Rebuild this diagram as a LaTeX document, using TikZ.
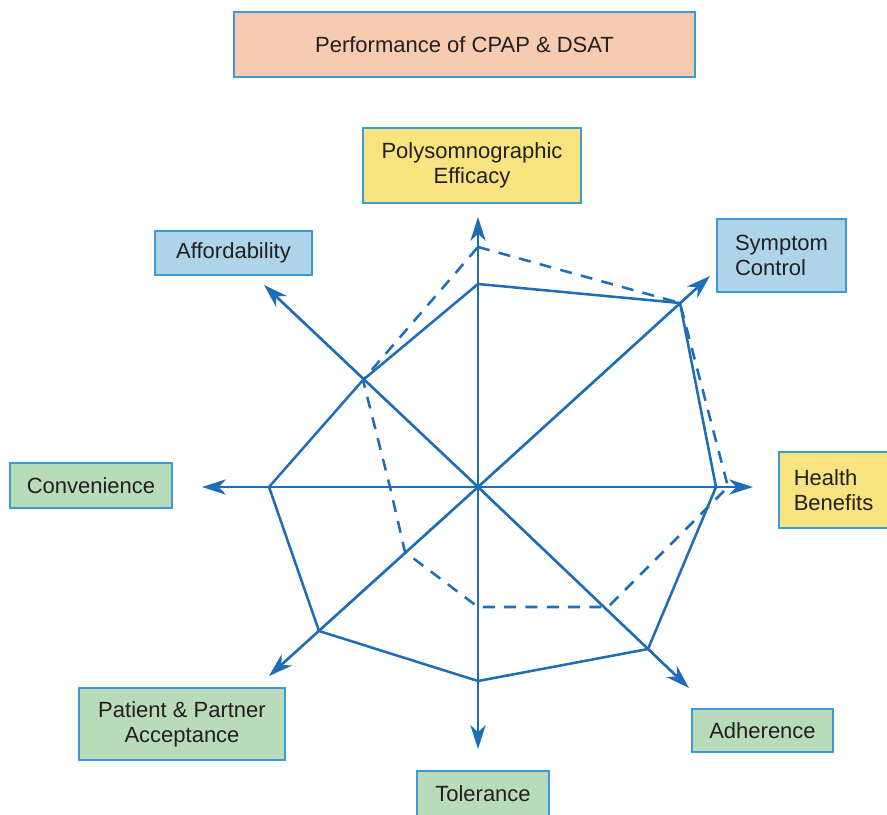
\documentclass[tikz,border=0pt]{standalone}
\usepackage{fontspec}
\setmainfont{Liberation Sans}
\usetikzlibrary{arrows.meta}
\definecolor{lineblue}{HTML}{1F6DB5}
\definecolor{boxborder}{HTML}{3E9AD6}
\definecolor{peach}{HTML}{F6CBB0}
\definecolor{yellowbox}{HTML}{F8E47E}
\definecolor{bluebox}{HTML}{AED4EA}
\definecolor{greenbox}{HTML}{B8DBBA}
\definecolor{txt}{HTML}{231F20}
\tikzset{
  labelbox/.style={draw=boxborder, line width=1.1pt, inner sep=0pt, text=txt,
    font=\fontsize{16.5}{19}\selectfont, align=center},
  axis/.style={draw=lineblue, line width=2pt,
    -{Stealth[length=18pt, width=11.5pt, inset=5.5pt]}},
  solidpoly/.style={draw=lineblue, line width=1.9pt, line join=miter},
  dashpoly/.style={draw=lineblue, line width=1.9pt, dash pattern=on 9pt off 7pt}
}
\begin{document}
\begin{tikzpicture}[x=0.75pt,y=-0.75pt]
\useasboundingbox (0,0) rectangle (887,814);

% boxes
\node[labelbox, fill=peach, minimum width=345.75pt, minimum height=48.75pt] (title) at (464.5,44.5) {Performance of CPAP \& DSAT};
\node[labelbox, fill=yellowbox, minimum width=163.5pt, minimum height=56.25pt] (poly) at (472,165.5) {Polysomnographic\\Efficacy};
\node[labelbox, fill=bluebox, minimum width=117.75pt, minimum height=33pt] (afford) at (233.5,253) {Affordability};
\node[labelbox, fill=bluebox, minimum width=96.75pt, minimum height=54.75pt, align=left] (symptom) at (781.5,255.5) {Symptom\\Control};
\node[labelbox, fill=greenbox, minimum width=121.5pt, minimum height=33.75pt] (conv) at (91,485.5) {Convenience};
\node[labelbox, fill=yellowbox, minimum width=81.75pt, minimum height=57pt, align=left] (health) at (833.5,490) {Health\\Benefits};
\node[labelbox, fill=greenbox, minimum width=154.5pt, minimum height=54pt] (patient) at (182,724) {Patient \& Partner\\Acceptance};
\node[labelbox, fill=greenbox, minimum width=105.75pt, minimum height=32.25pt] (adher) at (762.5,730.5) {Adherence};
\node[labelbox, fill=greenbox, minimum width=99pt, minimum height=34.5pt] (toler) at (483,794) {Tolerance};

% center and axis ends
\coordinate (O) at (478,487);
\coordinate (eU) at (478,217);
\coordinate (eUR) at (710,276);
\coordinate (eR) at (753,487);
\coordinate (eDR) at (689,688);
\coordinate (eD) at (478,749);
\coordinate (eDL) at (269,676);
\coordinate (eL) at (202,487);
\coordinate (eUL) at (264,285);

% solid polygon vertices
\coordinate (sU) at (478,284);
\coordinate (sUR) at (680,303);
\coordinate (sR) at (716,487);
\coordinate (sDR) at (648,649);
\coordinate (sD) at (478,681);
\coordinate (sDL) at (319,631);
\coordinate (sL) at (269,487);
\coordinate (sUL) at (363,380);

% dashed polygon vertices
\coordinate (dU) at (478,247);
\coordinate (dUR) at (680,303);
\coordinate (dR) at (728,487);
\coordinate (dDR) at (608,607);
\coordinate (dD) at (478,607);
\coordinate (dDL) at (405,552);
\coordinate (dL) at (390,487);
\coordinate (dUL) at (363,380);

\draw[dashpoly] (dU) -- (dUR) -- (dR) -- (dDR) -- (dD) -- (dDL) -- (dL) -- (dUL) -- cycle;
\draw[solidpoly] (sU) -- (sUR) -- (sR) -- (sDR) -- (sD) -- (sDL) -- (sL) -- (sUL) -- cycle;

\foreach \e in {eU,eUR,eR,eDR,eD,eDL,eL,eUL}
  \draw[axis] (O) -- (\e);
\end{tikzpicture}
\end{document}
